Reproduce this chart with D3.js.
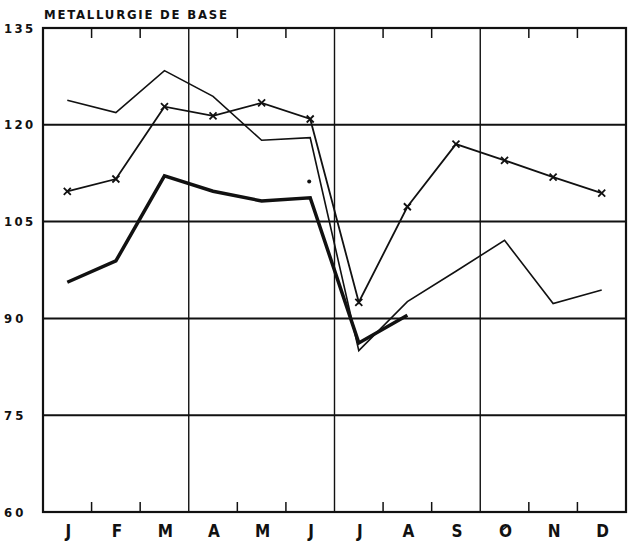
<!DOCTYPE html>
<html>
<head>
<meta charset="utf-8">
<script src="https://cdn.jsdelivr.net/npm/d3@7"></script>
<style>
  body { margin: 0; background: #fff; }
  text { font-family: "DejaVu Sans Condensed", "DejaVu Sans", sans-serif; font-weight: bold; fill: #111; }
</style>
</head>
<body>
<div id="chart"></div>
<script>
// month labels (the October one is drawn as a slashed O in the original)
const months = ["J", "F", "M", "A", "M", "J", "J", "A", "S", "Ø", "N", "D"];
const yTicks = [60, 75, 90, 105, 120, 135];

// thin line, no markers
const seriesThin = [123.8, 121.9, 128.4, 124.4, 117.6, 118.0, 85.0, 92.6, 97.3, 102.1, 92.3, 94.4];
// line with x markers
const seriesCross = [109.7, 111.6, 122.8, 121.4, 123.4, 120.9, 92.5, 107.3, 117.0, 114.5, 111.9, 109.4];
// thick line (stops in August)
const seriesThick = [95.6, 98.9, 112.1, 109.7, 108.2, 108.7, 86.2, 90.5];

const width = 629, height = 543;
const margin = { top: 28, right: 3, bottom: 31, left: 43 };

const svg = d3.select("#chart").append("svg")
    .attr("width", width)
    .attr("height", height);

const x = d3.scaleBand()
    .domain(d3.range(12))
    .range([margin.left, width - margin.right])
    .paddingInner(0).paddingOuter(0);

const y = d3.scaleLinear()
    .domain([60, 135])
    .range([height - margin.bottom, margin.top]);

const cx = i => x(i) + x.bandwidth() / 2;

// horizontal grid lines
svg.append("g")
  .selectAll("line")
  .data(yTicks.slice(1, -1))
  .join("line")
    .attr("x1", margin.left).attr("x2", width - margin.right)
    .attr("y1", d => y(d)).attr("y2", d => y(d))
    .attr("stroke", "#111")
    .attr("stroke-width", 2);

// quarter separators
svg.append("g")
  .selectAll("line")
  .data([3, 6, 9])
  .join("line")
    .attr("x1", d => x(d)).attr("x2", d => x(d))
    .attr("y1", margin.top).attr("y2", height - margin.bottom)
    .attr("stroke", "#111")
    .attr("stroke-width", 1.4);

// month ticks, top and bottom, pointing inward
const tickIdx = [1, 2, 4, 5, 7, 8, 10, 11];
svg.append("g")
  .selectAll("line")
  .data(tickIdx)
  .join("line")
    .attr("x1", d => x(d)).attr("x2", d => x(d))
    .attr("y1", margin.top).attr("y2", margin.top + 10)
    .attr("stroke", "#111").attr("stroke-width", 1.5);
svg.append("g")
  .selectAll("line")
  .data(tickIdx)
  .join("line")
    .attr("x1", d => x(d)).attr("x2", d => x(d))
    .attr("y1", height - margin.bottom).attr("y2", height - margin.bottom - 10)
    .attr("stroke", "#111").attr("stroke-width", 1.5);

// frame
svg.append("rect")
    .attr("x", margin.left).attr("y", margin.top)
    .attr("width", width - margin.left - margin.right)
    .attr("height", height - margin.top - margin.bottom)
    .attr("fill", "none")
    .attr("stroke", "#111")
    .attr("stroke-width", 2.2);

// y labels
svg.append("g")
  .selectAll("text")
  .data(yTicks)
  .join("text")
    .attr("x", 4)
    .attr("y", d => y(d))
    .attr("dy", "0.36em")
    .attr("font-size", 13)
    .attr("textLength", d => String(d).length * 9.7)
    .attr("lengthAdjust", "spacing")
    .text(d => d);

// month labels
svg.append("g")
  .selectAll("text")
  .data(months)
  .join("text")
    .attr("x", (d, i) => cx(i) + 1)
    .attr("y", 537)
    .attr("text-anchor", "middle")
    .attr("font-size", 17)
    .text(d => d === "Ø" ? "O" : d);

// slash in the October O
svg.append("line")
    .attr("x1", cx(9) - 2).attr("x2", cx(9) + 4)
    .attr("y1", 530).attr("y2", 525)
    .attr("stroke", "#111").attr("stroke-width", 1.6);

// title
svg.append("text")
    .attr("x", 44)
    .attr("y", 19)
    .attr("font-size", 13)
    .attr("textLength", 183)
    .attr("lengthAdjust", "spacing")
    .text("METALLURGIE DE BASE");

const line = d3.line()
    .x((d, i) => cx(i))
    .y(d => y(d));

svg.append("path")
    .datum(seriesThin)
    .attr("d", line)
    .attr("fill", "none")
    .attr("stroke", "#111")
    .attr("stroke-width", 1.6)
    .attr("stroke-linejoin", "miter");

svg.append("path")
    .datum(seriesCross)
    .attr("d", line)
    .attr("fill", "none")
    .attr("stroke", "#111")
    .attr("stroke-width", 1.8);

svg.append("g")
  .selectAll("path")
  .data(seriesCross)
  .join("path")
    .attr("transform", (d, i) => `translate(${cx(i)},${y(d)})`)
    .attr("d", "M-3.5,-3.5L3.5,3.5M-3.5,3.5L3.5,-3.5")
    .attr("stroke", "#111")
    .attr("stroke-width", 1.8);

svg.append("path")
    .datum(seriesThick)
    .attr("d", line)
    .attr("fill", "none")
    .attr("stroke", "#111")
    .attr("stroke-width", 3.5)
    .attr("stroke-linejoin", "miter");

// stray plotter dot
svg.append("circle")
    .attr("cx", cx(5) - 1).attr("cy", y(111.2))
    .attr("r", 2).attr("fill", "#111");
</script>
</body>
</html>
